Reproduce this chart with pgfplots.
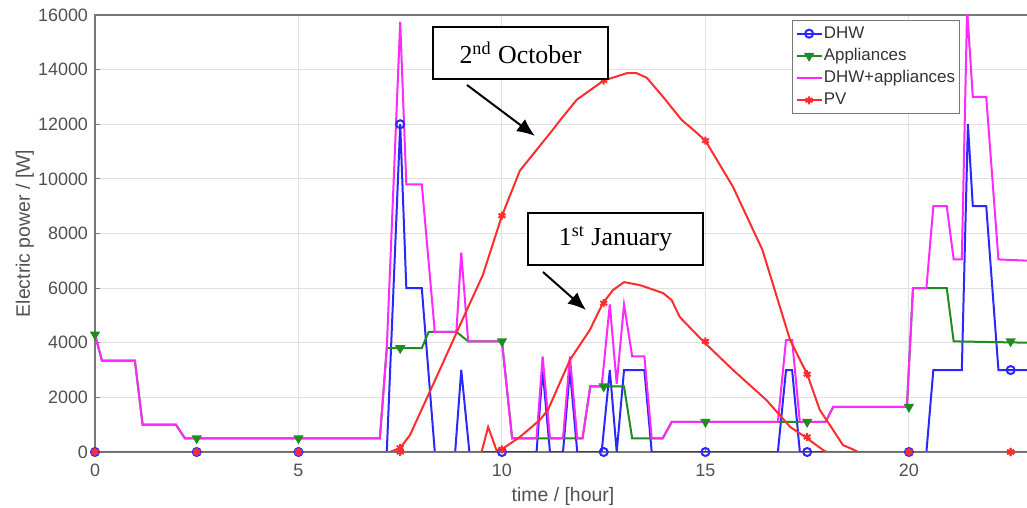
\documentclass[border=0pt]{standalone}
\usepackage{pgfplots}
\pgfplotsset{compat=1.18}
\usepackage{fontspec}
\setmainfont{Liberation Sans}
\newfontfamily\timesfont{Liberation Serif}
\usetikzlibrary{arrows.meta}
\definecolor{cdhw}{RGB}{40,40,255}
\definecolor{capp}{RGB}{30,140,30}
\definecolor{csum}{RGB}{255,40,255}
\definecolor{cpv}{RGB}{255,45,45}
\definecolor{cgrid}{RGB}{225,225,225}
\definecolor{caxis}{RGB}{120,120,120}
\definecolor{ctext}{RGB}{80,80,80}
\begin{document}
\begin{tikzpicture}
\begin{axis}[
  name=ax,
  scale only axis,
  width=468bp, height=218.5bp,
  xmin=0, xmax=23, ymin=0, ymax=16000,
  xtick={0,5,10,15,20},
  ytick={0,2000,...,16000},
  scaled y ticks=false,
  /pgf/number format/1000 sep={},
  /pgf/number format/assume math mode=true,
  tick label style={font=\fontsize{9}{10}\selectfont, text=ctext},
  xticklabel style={yshift=-2.5bp},
  tick align=inside, tick pos=left,
  major tick length=2.5bp,
  tick style={caxis, line width=0.5bp},
  axis line style={caxis, line width=0.7bp},
  grid=major,
  major grid style={cgrid, line width=0.5bp},
  xlabel={time / [hour]},
  ylabel={Electric power / [W]},
  label style={font=\fontsize{9.75}{11}\selectfont, text=ctext},
  xlabel style={at={(axis description cs:0.5,-0.1007)}, anchor=center},
  ylabel style={at={(axis description cs:-0.075,0.5)}, anchor=center},
  legend image code/.code={\draw[mark repeat=2,mark phase=2,#1] plot coordinates {(0cm,0cm) (0.22cm,0cm) (0.44cm,0cm)};},
  legend style={at={(rel axis cs:0.7447,0.9886)}, anchor=north west,
    draw=caxis, line width=0.6bp, fill=white,
    font=\fontsize{8.5}{10}\selectfont, text=black!80,
    inner xsep=1.5bp, inner ysep=1.8bp, row sep=1.6bp,
    nodes={inner sep=0.6bp, text height=6.5bp, text depth=1.8bp},
    legend cell align=left},
  every axis plot/.append style={line width=1bp},
]
\addlegendimage{cdhw, line width=1bp, mark=o, mark size=2bp}
\addlegendimage{capp, line width=1bp, mark=triangle*, mark options={rotate=180}, mark size=2bp}
\addlegendimage{csum, line width=1bp}
\addlegendimage{cpv, line width=1bp, mark=asterisk, mark size=2bp}
\legend{DHW, Appliances, DHW+appliances, PV}

% DHW
\addplot[cdhw, forget plot] coordinates {
(0,0)(7.17,0)(7.5,12000)(7.65,6000)(8.03,6000)(8.35,0)(8.85,0)(9.0,3000)(9.2,0)
(10.85,0)(11.0,3000)(11.18,0)(11.5,0)(11.67,3000)(11.85,0)(12.45,0)(12.65,3000)(12.82,0)
(13.0,3000)(13.5,3000)(13.68,0)(16.78,0)(16.98,3000)(17.13,3000)(17.32,0)(20.43,0)
(20.6,3000)(21.3,3000)(21.45,12000)(21.57,9000)(21.9,9000)(22.2,3000)(23,3000)};
\addplot[cdhw, only marks, mark=o, mark size=2bp, forget plot] coordinates {
(0,0)(2.5,0)(5,0)(7.5,12000)(10,0)(12.5,0)(15,0)(17.5,0)(20,0)(22.5,3000)};

% Appliances
\addplot[capp, forget plot] coordinates {
(0,4300)(0.17,3350)(0.98,3350)(1.17,1000)(1.99,1000)(2.21,500)(7.0,500)(7.17,3800)
(8.03,3800)(8.2,4400)(8.88,4400)(9.17,4050)(10.0,4050)(10.25,500)(11.98,500)(12.17,2400)
(13.0,2400)(13.2,500)(13.95,500)(14.17,1100)(17.95,1100)(18.14,1650)(19.95,1650)
(20.1,6000)(20.93,6000)(21.1,4050)(23,4000)};
\addplot[capp, only marks, mark=triangle*, mark options={rotate=180}, mark size=2bp, forget plot] coordinates {
(0,4300)(2.5,500)(5,500)(7.5,3800)(10,4050)(12.5,2400)(15,1100)(17.5,1100)(20,1650)(22.5,4050)};

% DHW + appliances
\addplot[csum, forget plot] coordinates {
(0,4300)(0.17,3350)(0.98,3350)(1.17,1000)(1.99,1000)(2.21,500)(7.0,500)(7.17,3800)
(7.5,15750)(7.65,9800)(8.03,9800)(8.35,4400)(8.88,4400)(9.0,7300)(9.17,4050)(10.0,4050)
(10.25,500)(10.85,500)(11.0,3500)(11.18,500)(11.5,500)(11.67,3500)(11.85,500)(11.98,500)
(12.17,2400)(12.45,2400)(12.65,5400)(12.82,2500)(13.0,5400)(13.2,3500)(13.5,3500)
(13.68,500)(13.95,500)(14.17,1100)(16.78,1100)(16.98,4100)(17.13,4100)(17.32,1100)
(17.95,1100)(18.14,1650)(19.95,1650)(20.1,6000)(20.43,6000)(20.6,9000)(20.93,9000)
(21.1,7050)(21.3,7050)(21.43,16200)(21.57,13000)(21.9,13000)(22.2,7050)(23,7000)};

% PV, 2nd October
\addplot[cpv, forget plot] coordinates {
(0,0)(7.25,0)(7.5,150)(7.74,620)(8.5,3100)(9.0,4750)(9.53,6480)(10.0,8650)(10.44,10300)
(11.25,11800)(11.43,12150)(11.84,12900)(12.5,13600)(13.07,13870)(13.31,13870)(13.56,13700)
(13.96,13000)(14.42,12150)(14.7,11800)(15.0,11400)(15.68,9700)(16.4,7400)(17.08,4100)
(17.5,2850)(17.81,1540)(18.14,800)(18.38,250)(18.62,100)(18.75,0)(23,0)};
\addplot[cpv, only marks, mark=asterisk, mark size=2bp, forget plot] coordinates {
(0,0)(2.5,0)(5,0)(7.5,150)(10,8650)(12.5,13600)(15,11400)(17.5,2850)(20,0)(22.5,0)};

% PV, 1st January
\addplot[cpv, forget plot] coordinates {
(0,0)(9.5,0)(9.66,920)(9.87,50)(10.0,100)(10.44,550)(10.93,1170)(11.13,1540)(11.67,3370)
(12.16,4470)(12.48,5450)(12.73,5930)(13.0,6220)(13.39,6110)(13.96,5820)(14.17,5560)
(14.37,4940)(14.96,4030)(15.68,3000)(16.5,1900)(17.08,920)(17.45,550)(17.93,30)(18.0,0)(23,0)};
\addplot[cpv, only marks, mark=asterisk, mark size=2bp, forget plot] coordinates {
(0,0)(2.5,0)(5,0)(7.5,0)(10,100)(12.5,5450)(15,4050)(17.5,550)(20,0)(22.5,0)};
\end{axis}
\begin{scope}[shift={(ax.south west)}]
  \node[draw=black, line width=1bp, fill=white, minimum width=87.5bp, minimum height=26bp,
        inner sep=0pt, font=\timesfont\fontsize{13}{15}\selectfont]
    at (212.75bp,199.5bp) {2\textsuperscript{nd} October};
  \node[draw=black, line width=1bp, fill=white, minimum width=87.5bp, minimum height=26bp,
        inner sep=0pt, font=\timesfont\fontsize{13}{15}\selectfont]
    at (260.25bp,106.5bp) {1\textsuperscript{st} January};
  \draw[line width=1bp, -{Latex[length=9bp,width=7.5bp]}] (186bp,183.5bp) -- (220bp,158bp);
  \draw[line width=1bp, -{Latex[length=9bp,width=7.5bp]}] (224bp,90bp) -- (245.5bp,71bp);
  \pgfresetboundingbox
  \useasboundingbox (-47.5bp,-28bp) rectangle (466bp,226bp);
\end{scope}
\end{tikzpicture}
\end{document}
